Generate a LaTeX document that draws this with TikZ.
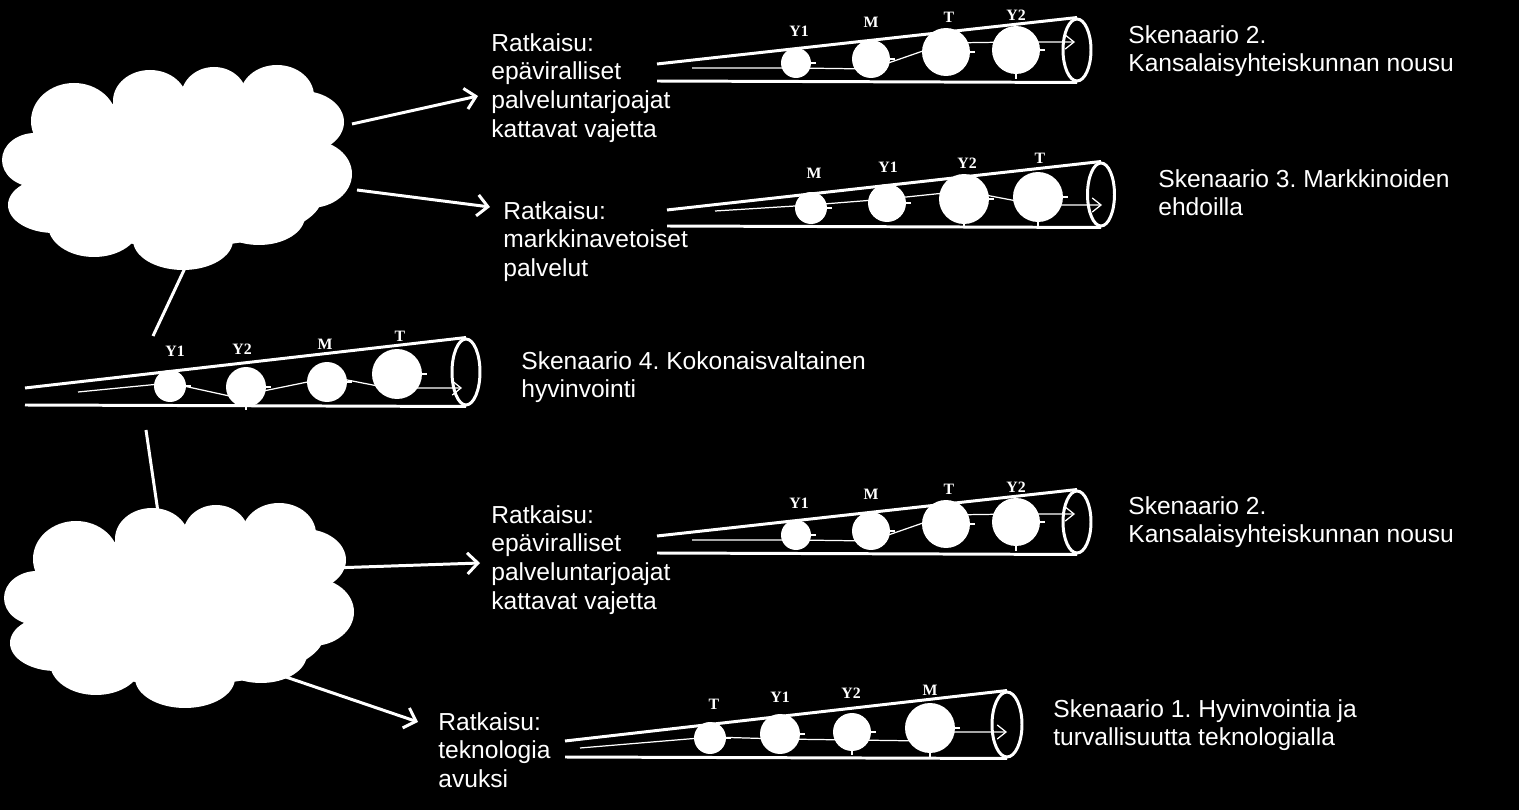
\documentclass[tikz,border=0pt]{standalone}
\usepackage{fontspec}
\setmainfont{Liberation Sans}
\newfontfamily\lblfont{Liberation Serif}
\usetikzlibrary{arrows.meta,calc,shapes.geometric}
\pgfdeclarelayer{back}
\pgfdeclarelayer{mid}
\pgfsetlayers{back,mid,main}
\frenchspacing
\tikzset{
  tubeline/.style={draw=white, line width=1.7pt},
  tubeend/.style 2 args={ellipse, draw=white, line width=1.7pt, inner sep=0pt,
     minimum width=#1*0.04cm, minimum height=#2*0.04cm},
  ball/.style={circle, fill=white, inner sep=0pt, minimum size=#1*0.04cm},
  stub/.style={draw=white, line width=1.4pt},
  lbl/.style={font=\lblfont\bfseries\fontsize{9}{10}\selectfont, text=white, inner sep=0pt},
  txt/.style={font=\fontsize{14}{16.4}\selectfont, text=white, align=left,
     anchor=north west, inner sep=0pt},
  conn/.style={draw=white, line width=1.7pt},
  arr/.style={conn, -{Straight Barb[length=6pt,width=12pt]}},
  innerarr/.style={draw=white, line width=0.7pt, -{Straight Barb[length=5pt,width=8pt]}},
  cloudshape/.pic={
    \foreach \cx/\cy/\rx/\ry in {33/93/33/27, 52/138/46/28, 92/158/46/32,
        181/173/50/30, 257/149/46/29, 308/107/42/34, 300/55/42/31,
        275/29/37/31, 212/30/33/30, 148/34/37/31, 72/54/43/38, 178/103/120/60,
        175/75/120/45, 180/130/140/50}
      \fill[white] (\cx,\cy) ellipse ({\rx} and {\ry});
  }
}
\begin{document}
\begin{tikzpicture}[x=0.02cm,y=-0.02cm]
\begin{pgfonlayer}{back}
\fill[black] (0,0) rectangle (1519,810);
\end{pgfonlayer}
\useasboundingbox (0,0) rectangle (1519,810);

% clouds
\pic at (2,67) {cloudshape};
\begin{scope}[shift={(4,505)},xscale=0.955]
\pic at (0,0) {cloudshape};
\end{scope}

% ---------- texts ----------
\node[txt] (r1) at (491,33) {Ratkaisu:\\epäviralliset\\palveluntarjoajat\\kattavat vajetta};
\node[txt] (s2a) at (1128,25) {Skenaario 2.\\Kansalaisyhteiskunnan nousu};
\node[txt] (r2) at (503,201) {Ratkaisu:\\markkinavetoiset\\palvelut};
\node[txt] (s3) at (1158,169) {Skenaario 3. Markkinoiden\\ehdoilla};
\node[txt] (s4) at (521,351) {Skenaario 4. Kokonaisvaltainen\\hyvinvointi};
\node[txt] (r3) at (491,505) {Ratkaisu:\\epäviralliset\\palveluntarjoajat\\kattavat vajetta};
\node[txt] (s2b) at (1128,496) {Skenaario 2.\\Kansalaisyhteiskunnan nousu};
\node[txt] (r4) at (438,712) {Ratkaisu:\\teknologia\\avuksi};
\node[txt] (s1) at (1053,699) {Skenaario 1. Hyvinvointia ja\\turvallisuutta teknologialla};

% ---------- cloud connectors ----------
\coordinate (c1r) at (352,124);
\coordinate (c1rr) at (357,190);
\coordinate (c1b) at (185,268);
\coordinate (c2t) at (158,512);
\coordinate (c2r) at (332,568);
\coordinate (c2br) at (280,675);
\coordinate (tip1) at (478,96);
\coordinate (tip2) at (490,207);
\coordinate (tip3) at (480,563);
\coordinate (tip4) at (418,722);
\coordinate (d3t) at (153,336);
\coordinate (d3b) at (146,430);
\draw[arr] (c1r) -- (tip1);
\draw[arr] (c1rr) -- (tip2);
\draw[arr] (c2r) -- (tip3);
\draw[arr] (c2br) -- (tip4);
\draw[conn] (c1b) -- (d3t);
\draw[conn] (d3b) -- (c2t);

% ---------- tube A (Skenaario 2, top) ----------
\node[tubeend={14}{31}] (ea) at (1077,50) {};
\coordinate (ta) at (657,64); \coordinate (ba) at (657,81);
\draw[tubeline] (ta) -- (ea.north);
\draw[tubeline] (ba) -- (ea.south);
\node[ball=15] (ay1) at (796,63) {};
\node[ball=19] (am) at (871,59) {};
\node[ball=24] (at) at (946,52) {};
\node[ball=24] (ay2) at (1016,50) {};
\node[lbl] (lay1) at (799,31) {Y1};
\node[lbl] (lam) at (871,22) {M};
\node[lbl] (lat) at (949,17) {T};
\node[lbl] (lay2) at (1016,15) {Y2};
\foreach \b in {ay1,am,at,ay2} \draw[stub] (\b.east) -- +(5,0);
\draw[stub] (ay2.south) -- +(0,5);
\coordinate (sa) at (692,68); \coordinate (fa) at (1075,42);
\begin{pgfonlayer}{mid}
\draw[innerarr] (sa) -- ($(ay1)+(0,5)$) -- ($(am)+(0,10)$) -- ($(at)+(0,-9)$) -- ($(ay2)+(0,-8)$) -- (fa);
\end{pgfonlayer}

% ---------- tube B (Skenaario 3) ----------
\node[tubeend={13.5}{31.5}] (eb) at (1101,194.5) {};
\coordinate (tb) at (667,210); \coordinate (bb) at (667,226);
\draw[tubeline] (tb) -- (eb.north);
\draw[tubeline] (bb) -- (eb.south);
\node[ball=16] (bm) at (811,208) {};
\node[ball=19] (by1) at (887,203) {};
\node[ball=25] (by2) at (964,199) {};
\node[ball=25] (bt) at (1038,197) {};
\node[lbl] (lbm) at (814,173) {M};
\node[lbl] (lby1) at (888,167) {Y1};
\node[lbl] (lby2) at (967,163) {Y2};
\node[lbl] (lbt) at (1040,158) {T};
\foreach \b in {bm,by1,by2,bt} \draw[stub] (\b.east) -- +(5,0);
\draw[stub] (by2.south) -- +(0,4);
\draw[stub] (bt.south) -- +(0,4);
\coordinate (sb) at (715,211); \coordinate (fb) at (1102,205);
\begin{pgfonlayer}{mid}
\draw[innerarr] (sb) -- ($(bm)+(0,-3)$) -- ($(by1)+(0,-4)$) -- ($(by2)+(0,-8)$) -- ($(bt)+(0,8)$) -- (fb);
\end{pgfonlayer}

% ---------- tube C (Skenaario 4) ----------
\node[tubeend={14}{33}] (ec) at (466,372) {};
\coordinate (tc) at (25,388); \coordinate (bc) at (25,405);
\draw[tubeline] (tc) -- (ec.north);
\draw[tubeline] (bc) -- (ec.south);
\node[ball=16] (cy1) at (170,386) {};
\node[ball=20] (cy2) at (246,387) {};
\node[ball=20] (cm) at (327,382) {};
\node[ball=25] (ct) at (397,374) {};
\node[lbl] (lcy1) at (175,351) {Y1};
\node[lbl] (lcy2) at (242,349) {Y2};
\node[lbl] (lcm) at (325,344) {M};
\node[lbl] (lct) at (400,336) {T};
\foreach \b in {cy1,cy2,cm,ct} \draw[stub] (\b.east) -- +(5,0);
\draw[stub] (cy2.south) -- +(0,3);
\coordinate (sc) at (78,392); \coordinate (fc) at (462,388);
\begin{pgfonlayer}{mid}
\draw[innerarr] (sc) -- ($(cy1)+(0,-3)$) -- ($(cy2)+(-12,10)$) -- ($(cm)+(5,-5)$) -- ($(ct)+(-9,14)$) -- (fc);
\end{pgfonlayer}

% ---------- tube D (Skenaario 2, lower) ----------
\node[tubeend={14}{31}] (ed) at (1077,522) {};
\coordinate (td) at (657,536); \coordinate (bd) at (657,553);
\draw[tubeline] (td) -- (ed.north);
\draw[tubeline] (bd) -- (ed.south);
\node[ball=15] (dy1) at (796,535) {};
\node[ball=19] (dm) at (871,531) {};
\node[ball=24] (dt) at (946,524) {};
\node[ball=24] (dy2) at (1016,522) {};
\node[lbl] (ldy1) at (799,503) {Y1};
\node[lbl] (ldm) at (871,494) {M};
\node[lbl] (ldt) at (949,489) {T};
\node[lbl] (ldy2) at (1016,487) {Y2};
\foreach \b in {dy1,dm,dt,dy2} \draw[stub] (\b.east) -- +(5,0);
\draw[stub] (dy2.south) -- +(0,5);
\coordinate (sd) at (692,540); \coordinate (fd) at (1075,514);
\begin{pgfonlayer}{mid}
\draw[innerarr] (sd) -- ($(dy1)+(0,5)$) -- ($(dm)+(0,10)$) -- ($(dt)+(0,-9)$) -- ($(dy2)+(0,-8)$) -- (fd);
\end{pgfonlayer}

% ---------- tube E (Skenaario 1) ----------
\node[tubeend={15}{32.5}] (ee) at (1007,724.5) {};
\coordinate (te) at (565,741); \coordinate (be) at (565,757);
\draw[tubeline] (te) -- (ee.north);
\draw[tubeline] (be) -- (ee.south);
\node[ball=16] (et) at (710,738) {};
\node[ball=20] (ey1) at (780,734) {};
\node[ball=19] (ey2) at (852,732) {};
\node[ball=25] (em) at (930,728) {};
\node[lbl] (let) at (714,704) {T};
\node[lbl] (ley1) at (780,697) {Y1};
\node[lbl] (ley2) at (851,693) {Y2};
\node[lbl] (lem) at (930,690) {M};
\foreach \b in {et,ey1,ey2,em} \draw[stub] (\b.east) -- +(5,0);
\draw[stub] (ey2.south) -- +(0,4);
\draw[stub] (em.south) -- +(0,4);
\coordinate (se) at (580,748); \coordinate (fe) at (1007,732);
\begin{pgfonlayer}{mid}
\draw[innerarr] (se) -- ($(et)+(2,-1)$) -- ($(ey1)+(0,5)$) -- ($(ey2)+(0,8)$) -- ($(em)+(-5,13)$) -- ($(em)+(10,4)$) -- (fe);
\end{pgfonlayer}
\end{tikzpicture}
\end{document}
